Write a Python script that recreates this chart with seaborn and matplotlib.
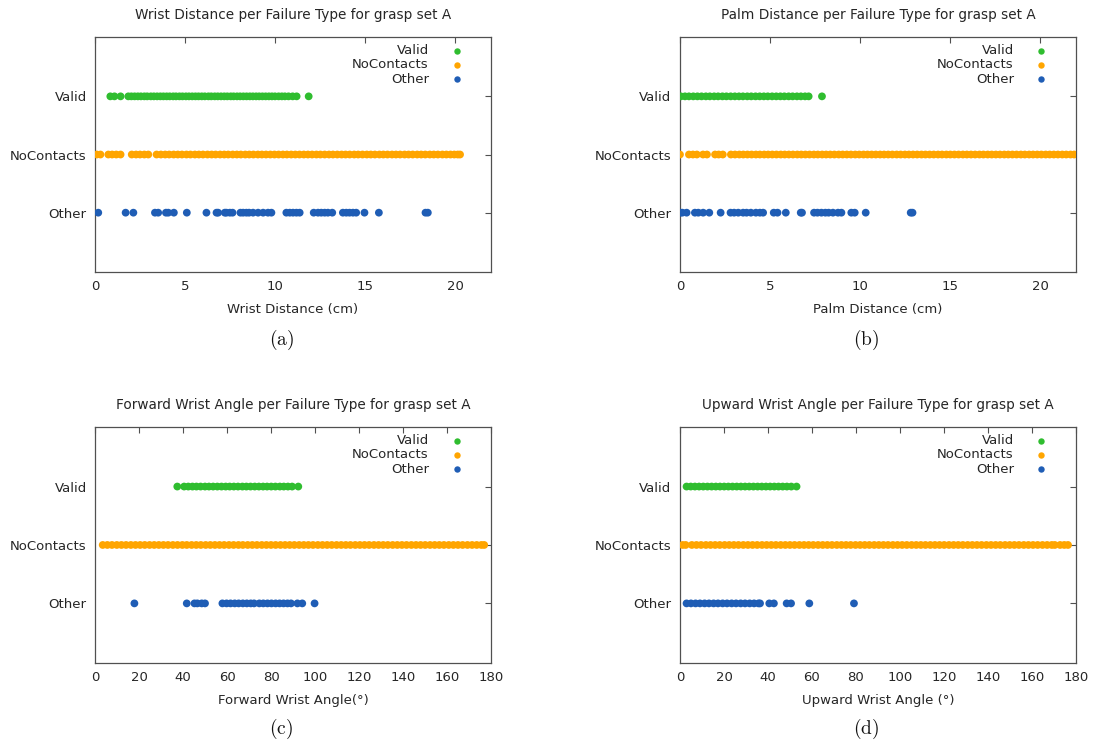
import matplotlib
matplotlib.use("Agg")
import matplotlib.pyplot as plt
import pandas as pd
import seaborn as sns

# Failure categories (top to bottom) and their colours
failure_types = ["Valid", "NoContacts", "Other"]
type_colors = ["#2fbd2f", "#ffa500", "#1f5db5"]

# (a) wrist distance, cm
wrist_valid = [0.85, 1.08, 1.42, 1.85, 2.02, 2.2, 2.38, 2.55, 2.74, 2.9, 3.1, 3.27, 3.45, 3.63,
               3.8, 3.98, 4.15, 4.34, 4.5, 4.69, 4.86, 5.05, 5.22, 5.4, 5.58, 5.75, 5.93, 6.1,
               6.3, 6.46, 6.65, 6.82, 7.0, 7.18, 7.35, 7.54, 7.7, 7.89, 8.06, 8.24, 8.42, 8.6,
               8.77, 8.95, 9.12, 9.3, 9.48, 9.66, 9.83, 10.0, 10.2, 10.38, 10.55, 10.75, 10.98,
               11.2, 11.87]
wrist_nocontacts = [0.1, 0.3, 0.74, 0.95, 1.18, 1.42, 2.04, 2.28, 2.5, 2.74, 2.96, 3.42, 3.66,
                    3.9, 4.12, 4.37, 4.6, 4.83, 5.08, 5.3, 5.55, 5.77, 6.0, 6.25, 6.48, 6.7,
                    6.95, 7.18, 7.4, 7.65, 7.88, 8.1, 8.35, 8.57, 8.8, 9.05, 9.27, 9.5, 9.74,
                    9.97, 10.2, 10.44, 10.66, 10.9, 11.13, 11.36, 11.6, 11.83, 12.06, 12.3,
                    12.52, 12.76, 13.0, 13.22, 13.46, 13.7, 13.92, 14.15, 14.4, 14.62, 14.86,
                    15.1, 15.32, 15.55, 15.8, 16.02, 16.25, 16.5, 16.72, 16.95, 17.2, 17.42,
                    17.65, 17.9, 18.12, 18.35, 18.6, 18.82, 19.05, 19.3, 19.52, 19.75, 19.96,
                    20.15, 20.28]
wrist_other = [0.18, 1.70, 2.13, 3.33, 3.51, 3.94, 4.07, 4.38, 5.10, 6.19, 6.75, 6.84, 7.21,
               7.30, 7.49, 7.64, 8.08, 8.23, 8.41, 8.56, 8.78, 9.06, 9.34, 9.61, 9.80, 10.63,
               10.82, 11.00, 11.19, 11.37, 12.15, 12.39, 12.57, 12.76, 12.94, 13.18, 13.77,
               13.96, 14.14, 14.33, 14.51, 14.97, 15.77, 18.36, 18.49]

# (b) palm distance, cm
palm_valid = [0.05, 0.28, 0.5, 0.74, 0.97, 1.2, 1.44, 1.66, 1.9, 2.12, 2.36, 2.58, 2.82, 3.05,
              3.28, 3.5, 3.74, 3.96, 4.2, 4.43, 4.66, 4.88, 5.12, 5.35, 5.58, 5.8, 6.04, 6.26,
              6.5, 6.72, 6.95, 7.15, 7.89]
palm_nocontacts = [0.0, 0.5, 0.72, 0.94, 1.28, 1.5, 1.95, 2.15, 2.38, 2.83, 3.06, 3.3, 3.52,
                   3.75, 3.98, 4.22, 4.44, 4.68, 4.9, 5.13, 5.36, 5.6, 5.82, 6.05, 6.28, 6.52,
                   6.74, 6.97, 7.2, 7.44, 7.66, 7.9, 8.12, 8.35, 8.58, 8.82, 9.04, 9.27, 9.5,
                   9.74, 9.96, 10.2, 10.42, 10.65, 10.88, 11.12, 11.34, 11.57, 11.8, 12.04,
                   12.26, 12.5, 12.72, 12.95, 13.18, 13.42, 13.64, 13.87, 14.1, 14.34, 14.56,
                   14.8, 15.02, 15.25, 15.48, 15.72, 15.94, 16.17, 16.4, 16.64, 16.86, 17.1,
                   17.32, 17.55, 17.78, 18.02, 18.24, 18.47, 18.7, 18.94, 19.16, 19.4, 19.62,
                   19.85, 20.08, 20.32, 20.54, 20.77, 21.0, 21.24, 21.46, 21.7, 21.9]
palm_other = [0.02, 0.13, 0.37, 0.83, 1.02, 1.29, 1.63, 2.26, 2.81, 3.01, 3.24, 3.51, 3.70,
              3.94, 4.22, 4.44, 4.62, 5.21, 5.42, 5.88, 6.71, 6.78, 7.45, 7.64, 7.86, 8.08,
              8.26, 8.50, 8.78, 8.97, 9.52, 9.71, 10.32, 12.82, 12.92]

# (c) forward wrist angle, degrees
fwd_valid = [37.4, 40.5, 42.4, 44.3, 46.1, 48.0, 50.0, 51.8, 53.7, 55.6, 57.5, 59.4, 61.2,
             63.1, 65.0, 67.0, 68.8, 70.7, 72.6, 74.5, 76.4, 78.2, 80.1, 82.0, 84.0, 85.8,
             87.7, 89.6, 92.4]
fwd_nocontacts = [3.5, 5.6, 7.7, 9.9, 12.0, 14.1, 16.3, 18.4, 20.5, 22.6, 24.8, 26.9, 29.0,
                  31.1, 33.2, 35.4, 37.5, 39.7, 41.7, 43.9, 46.0, 48.1, 50.3, 52.4, 54.5, 56.6,
                  58.7, 60.9, 63.0, 65.2, 67.2, 69.4, 71.5, 73.6, 75.8, 77.9, 80.0, 82.1, 84.3,
                  86.4, 88.5, 90.6, 92.8, 94.9, 97.0, 99.1, 101.3, 103.4, 105.5, 107.6, 109.8,
                  111.9, 114.0, 116.1, 118.3, 120.4, 122.5, 124.6, 126.8, 128.9, 131.0, 133.1,
                  135.3, 137.4, 139.5, 141.6, 143.8, 145.9, 148.0, 150.1, 152.3, 154.4, 156.5,
                  158.6, 160.8, 162.9, 165.0, 167.1, 169.3, 171.4, 173.5, 175.6, 176.9]
fwd_other = [17.9, 41.7, 45.2, 46.5, 48.5, 50.0, 57.9, 59.8, 61.6, 63.5, 65.3, 67.2, 69.0,
             70.8, 72.3, 74.7, 76.5, 78.4, 80.2, 82.1, 83.9, 85.7, 87.5, 89.1, 92.0, 94.2,
             99.8]

# (d) upward wrist angle, degrees
up_valid = [3.0, 4.9, 6.8, 8.7, 10.6, 12.5, 14.4, 16.3, 18.2, 20.1, 22.0, 23.9, 25.8, 27.7,
            29.6, 31.5, 33.4, 35.3, 37.2, 39.1, 41.0, 42.9, 44.8, 46.7, 48.6, 50.6, 53.0]
up_nocontacts = [1.2, 2.6, 5.4, 7.5, 9.6, 11.8, 13.9, 16.0, 18.1, 20.3, 22.4, 24.5, 26.6, 28.8,
                 30.9, 33.0, 35.1, 37.3, 39.4, 41.5, 43.6, 45.8, 47.9, 50.0, 52.1, 54.3, 56.4,
                 58.5, 60.6, 62.8, 64.9, 67.0, 69.1, 71.3, 73.4, 75.5, 77.6, 79.8, 81.9, 84.0,
                 86.1, 88.3, 90.4, 92.5, 94.6, 96.8, 98.9, 101.0, 103.1, 105.3, 107.4, 109.5,
                 111.6, 113.8, 115.9, 118.0, 120.1, 122.3, 124.4, 126.5, 128.6, 130.8, 132.9,
                 135.0, 137.1, 139.3, 141.4, 143.5, 145.6, 147.8, 149.9, 152.0, 154.1, 156.3,
                 158.4, 160.5, 162.6, 164.8, 166.9, 169.0, 170.4, 172.8, 174.7, 176.4]
up_other = [3.0, 5.0, 7.1, 9.1, 11.2, 13.2, 15.3, 17.3, 19.4, 21.4, 23.5, 25.5, 27.6, 29.6,
            31.7, 33.7, 35.7, 36.4, 40.6, 42.7, 48.5, 50.5, 58.8, 79.1]

distance_ticks = [0, 5, 10, 15, 20]
angle_ticks = [0, 20, 40, 60, 80, 100, 120, 140, 160, 180]

panels = [
    dict(series=[wrist_valid, wrist_nocontacts, wrist_other],
         title="Wrist Distance per Failure Type for grasp set A",
         xlabel="Wrist Distance (cm)", xlim=(0, 22), xticks=distance_ticks,
         rect=[0.0867, 0.6349, 0.3613, 0.3154], caption="(a)", cap_xy=(0.2564, 0.5436)),
    dict(series=[palm_valid, palm_nocontacts, palm_other],
         title="Palm Distance per Failure Type for grasp set A",
         xlabel="Palm Distance (cm)", xlim=(0, 22), xticks=distance_ticks,
         rect=[0.6204, 0.6349, 0.3613, 0.3154], caption="(b)", cap_xy=(0.7901, 0.5436)),
    dict(series=[fwd_valid, fwd_nocontacts, fwd_other],
         title="Forward Wrist Angle per Failure Type for grasp set A",
         xlabel="Forward Wrist Angle(\u00b0)", xlim=(0, 180), xticks=angle_ticks,
         rect=[0.0867, 0.1101, 0.3613, 0.3168], caption="(c)", cap_xy=(0.2564, 0.0215)),
    dict(series=[up_valid, up_nocontacts, up_other],
         title="Upward Wrist Angle per Failure Type for grasp set A",
         xlabel="Upward Wrist Angle (\u00b0)", xlim=(0, 180), xticks=angle_ticks,
         rect=[0.6204, 0.1101, 0.3613, 0.3168], caption="(d)", cap_xy=(0.7901, 0.0215)),
]

sns.set_theme(style="white")
plt.rcParams["font.family"] = ["DejaVu Sans"]
plt.rcParams["mathtext.fontset"] = "cm"

text_color = "#262626"
frame_color = "#505050"

fig = plt.figure(figsize=(10.96, 7.45), dpi=100)

for p in panels:
    ax = fig.add_axes(p["rect"])
    df = pd.concat(
        [pd.DataFrame({"value": vals, "type": name})
         for name, vals in zip(failure_types, p["series"])],
        ignore_index=True,
    )
    sns.stripplot(data=df, x="value", y="type", hue="type",
                  order=failure_types, hue_order=failure_types,
                  palette=type_colors, jitter=False, size=5.6, linewidth=0,
                  legend=False, ax=ax)

    ax.set_xlim(*p["xlim"])
    ax.set_xticks(p["xticks"])
    ax.set_ylim(3.02, -1.02)
    ax.set_yticks([0, 1, 2])
    ax.set_yticklabels(failure_types)
    ax.set_ylabel("")
    ax.set_xlabel(p["xlabel"], fontsize=9.5, color=text_color, labelpad=7)
    ax.set_title(p["title"], fontsize=9.8, color=text_color, pad=13)

    for s in ax.spines.values():
        s.set_visible(True)
        s.set_color(frame_color)
        s.set_linewidth(0.9)
    ax.tick_params(axis="both", which="major", direction="in", length=4, width=0.8,
                   color=frame_color, top=True, right=True, labelsize=9.5,
                   labelcolor=text_color, pad=6)

    # key in the upper right corner: right-aligned label followed by a dot
    key_y = [0.942, 0.882, 0.821]
    for name, color, yk in zip(failure_types, type_colors, key_y):
        ax.text(0.843, yk, name, transform=ax.transAxes, ha="right", va="center",
                fontsize=9.5, color=text_color)
        ax.plot([0.913], [yk], marker="o", markersize=4.6, color=color,
                markeredgewidth=0, linestyle="none", transform=ax.transAxes,
                clip_on=False)

    fig.text(p["cap_xy"][0], p["cap_xy"][1], r"$\mathrm{" + p["caption"] + "}$",
             ha="center", va="center", fontsize=14, color="#111111")

fig.savefig("out.png", dpi=100)
